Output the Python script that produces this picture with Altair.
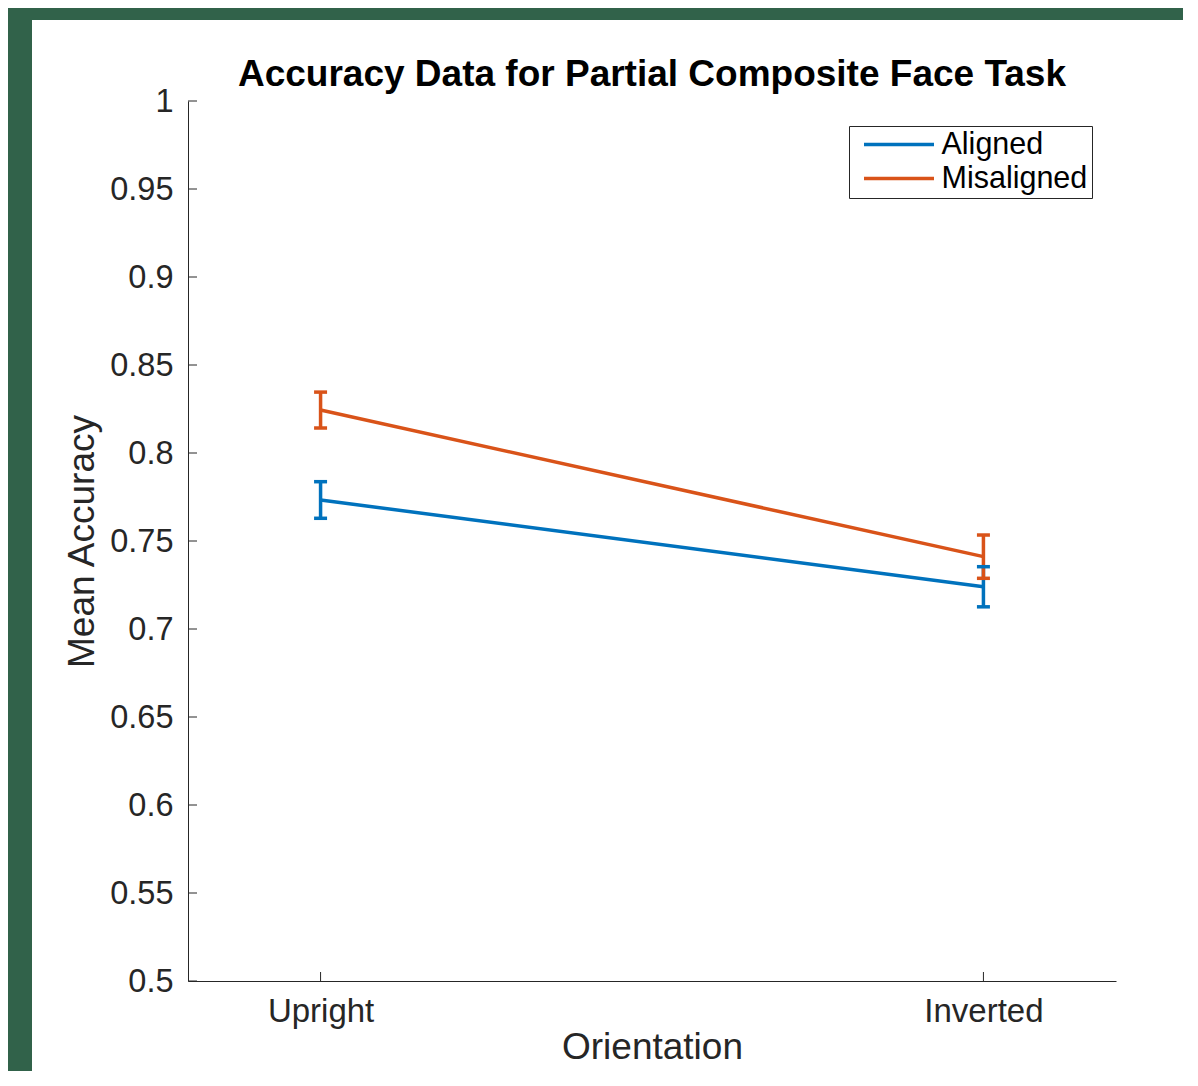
import altair as alt
import pandas as pd

# ---- data ----
orientations = ["Upright", "Inverted"]
x_pos = [1, 2]
conditions = ["Aligned", "Misaligned"]
aligned_mean = [0.7733, 0.7240]
aligned_err = [0.0104, 0.0114]
misaligned_mean = [0.8244, 0.7411]
misaligned_err = [0.0102, 0.0123]
y_ticks = [0.5, 0.55, 0.6, 0.65, 0.7, 0.75, 0.8, 0.85, 0.9, 0.95, 1.0]
colors = ["#0072BD", "#D95319"]

rows = []
for cond, means, errs in [("Aligned", aligned_mean, aligned_err),
                          ("Misaligned", misaligned_mean, misaligned_err)]:
    for o, x, m, e in zip(orientations, x_pos, means, errs):
        rows.append({"cond": cond, "orient": o, "x": x, "mean": m,
                     "lo": m - e, "hi": m + e})
df = pd.DataFrame(rows)
caps = pd.concat([
    df.assign(cap=df["lo"]),
    df.assign(cap=df["hi"]),
])

FONT = "Liberation Sans"
AX = "#262626"

xscale = alt.Scale(domain=[0.8, 2.2], nice=False, zero=False)
yscale = alt.Scale(domain=[0.5, 1.0], nice=False, zero=False)
cscale = alt.Scale(domain=conditions, range=colors)

label_expr = "datum.value == 1 ? 'Upright' : 'Inverted'"

x_axis = alt.Axis(values=x_pos, labelExpr=label_expr, grid=False, ticks=False, tickSize=0,
                  domainColor=AX, domainWidth=1, labelColor=AX, labelFont=FONT,
                  labelFontSize=33, labelBaseline="alphabetic", labelPadding=40,
                  title="Orientation", titleFont=FONT, titleFontSize=37,
                  titleFontWeight="normal", titleColor=AX, titleX=464, titleY=77,
                  titleBaseline="alphabetic", titleAlign="center", zindex=1,
                  labelFlush=False)
y_axis = alt.Axis(values=y_ticks, format="~g", grid=False, ticks=False, tickSize=0,
                  domainColor=AX, domainWidth=1, labelColor=AX, labelFont=FONT,
                  labelFontSize=32.5, labelPadding=15, labelBaseline="middle",
                  title="Mean Accuracy", titleFont=FONT, titleFontSize=37,
                  titleFontWeight="normal", titleColor=AX, titleAngle=270,
                  titleX=-95, titleY=440, titleBaseline="alphabetic",
                  titleAlign="center", zindex=1, labelFlush=False)

bg = alt.Chart(pd.DataFrame({"a": [0]})).mark_rect(fill="white").encode(
    x=alt.value(-156), x2=alt.value(1100), y=alt.value(-81), y2=alt.value(1000)
)

legend = alt.Legend(orient="none", legendX=661, legendY=25, title=None,
                    symbolType="stroke", symbolSize=4900, symbolStrokeWidth=3.5,
                    symbolOffset=9, labelOffset=5.5, labelFont=FONT,
                    labelFontSize=30.5, labelColor="black", padding=4,
                    clipHeight=29, rowPadding=3, strokeColor=AX,
                    fillColor="white", zindex=2)

lines = alt.Chart(df).mark_line(strokeWidth=3.5).encode(
    x=alt.X("x:Q", scale=xscale, axis=x_axis),
    y=alt.Y("mean:Q", scale=yscale, axis=y_axis),
    color=alt.Color("cond:N", scale=cscale, legend=legend),
    detail="cond:N",
)

err = alt.Chart(df).mark_rule(strokeWidth=3.5).encode(
    x=alt.X("x:Q", scale=xscale),
    y=alt.Y("lo:Q", scale=yscale),
    y2="hi:Q",
    color=alt.Color("cond:N", scale=cscale, legend=None),
)

cap_marks = alt.Chart(caps).mark_rule(strokeWidth=3.5, xOffset=-6.5, x2Offset=6.5).encode(
    x=alt.X("x:Q", scale=xscale),
    x2="x:Q",
    y=alt.Y("cap:Q", scale=yscale),
    color=alt.Color("cond:N", scale=cscale, legend=None),
)

ytick_df = pd.DataFrame({"v": y_ticks})
yticks = alt.Chart(ytick_df).mark_rule(color=AX, strokeWidth=1).encode(
    y=alt.Y("v:Q", scale=yscale),
    x=alt.value(0), x2=alt.value(9),
)
xtick_df = pd.DataFrame({"v": x_pos})
xticks = alt.Chart(xtick_df).mark_rule(color=AX, strokeWidth=1).encode(
    x=alt.X("v:Q", scale=xscale),
    y=alt.value(880), y2=alt.value(871),
)

chart = alt.layer(bg, yticks, xticks, lines, err, cap_marks).properties(
    width=928,
    height=880,
    background="#31624A",
    padding={"left": 180, "top": 93, "right": 67, "bottom": 90},
    autosize=alt.AutoSizeParams(type="none"),
    title=alt.TitleParams(
        "Accuracy Data for Partial Composite Face Task",
        font=FONT, fontSize=37, fontWeight="bold", color="black",
        anchor="middle", frame="group", baseline="alphabetic", offset=-103,
        zindex=2,
    ),
).configure_view(strokeWidth=0)

chart.save("out.html", embed_options={"renderer": "svg", "actions": False})
